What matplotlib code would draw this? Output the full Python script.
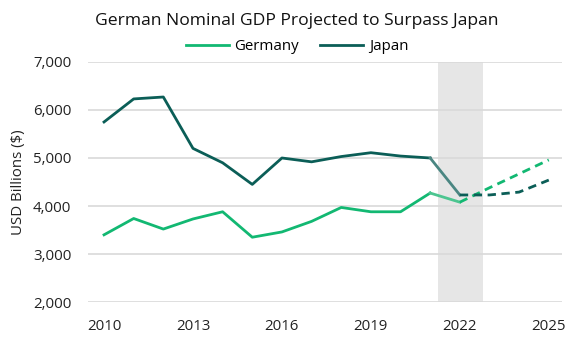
import matplotlib
matplotlib.use("Agg")
import matplotlib.pyplot as plt
from matplotlib.lines import Line2D

plt.rcParams['font.family'] = ['Open Sans', 'DejaVu Sans']

years = [2010, 2011, 2012, 2013, 2014, 2015, 2016, 2017, 2018, 2019, 2020, 2021, 2022]
germany = [3400, 3740, 3520, 3730, 3880, 3350, 3460, 3680, 3970, 3880, 3880, 4270, 4080]
japan = [5750, 6230, 6270, 5200, 4900, 4450, 5000, 4920, 5030, 5110, 5040, 5000, 4230]

proj_years = [2022, 2023, 2024, 2025]
germany_proj = [4080, 4380, 4670, 4960]
japan_proj = [4230, 4230, 4290, 4540]

GREEN = '#12b872'
TEAL = '#0b5e57'
GREEN_LIGHT = '#4cc590'
TEAL_LIGHT = '#4a8682'

fig = plt.figure(figsize=(5.81, 3.5), dpi=100)
ax = fig.add_axes([0.1515, 0.137, 0.8155, 0.686])

ax.axvspan(2021.25, 2022.77, color='#e6e6e6', zorder=0, lw=0)

ax.plot(years[:-1], germany[:-1], color=GREEN, lw=2)
ax.plot(years[:-1], japan[:-1], color=TEAL, lw=2)
ax.plot(years[-2:], germany[-2:], color=GREEN_LIGHT, lw=2)
ax.plot(years[-2:], japan[-2:], color=TEAL_LIGHT, lw=2)
ax.plot(proj_years, germany_proj, color=GREEN, lw=2, ls=(0, (3, 2)))
ax.plot(proj_years, japan_proj, color=TEAL, lw=2, ls=(0, (3, 2)))

ax.set_xlim(2009.46, 2025.44)
ax.set_ylim(2000, 7000)
ax.set_xticks([2010, 2013, 2016, 2019, 2022, 2025])
ax.set_yticks(range(2000, 7001, 1000))
ax.set_yticklabels([f'{v:,}' for v in range(2000, 7001, 1000)])
ax.tick_params(length=0, labelsize=10.8, colors='#222222')
ax.tick_params(axis='y', pad=12)
ax.tick_params(axis='x', pad=12)
ax.grid(axis='y', color='#d9d9d9', lw=1.2)
ax.set_axisbelow(True)
for s in ax.spines.values():
    s.set_visible(False)
ax.set_ylabel('USD Billions ($)', fontsize=10.8, color='#222222', labelpad=5)

fig.text(0.511, 0.94, 'German Nominal GDP Projected to Surpass Japan',
         ha='center', va='center', fontsize=12.6, color='#111111')
handles = [Line2D([], [], color=GREEN, lw=2), Line2D([], [], color=TEAL, lw=2)]
fig.legend(handles, ['Germany', 'Japan'], loc='center', bbox_to_anchor=(0.511, 0.866),
           ncol=2, frameon=False, fontsize=10.8, handlelength=2.9, handletextpad=0.35,
           columnspacing=1.4, borderpad=0)

fig.savefig('out.png', dpi=100)
